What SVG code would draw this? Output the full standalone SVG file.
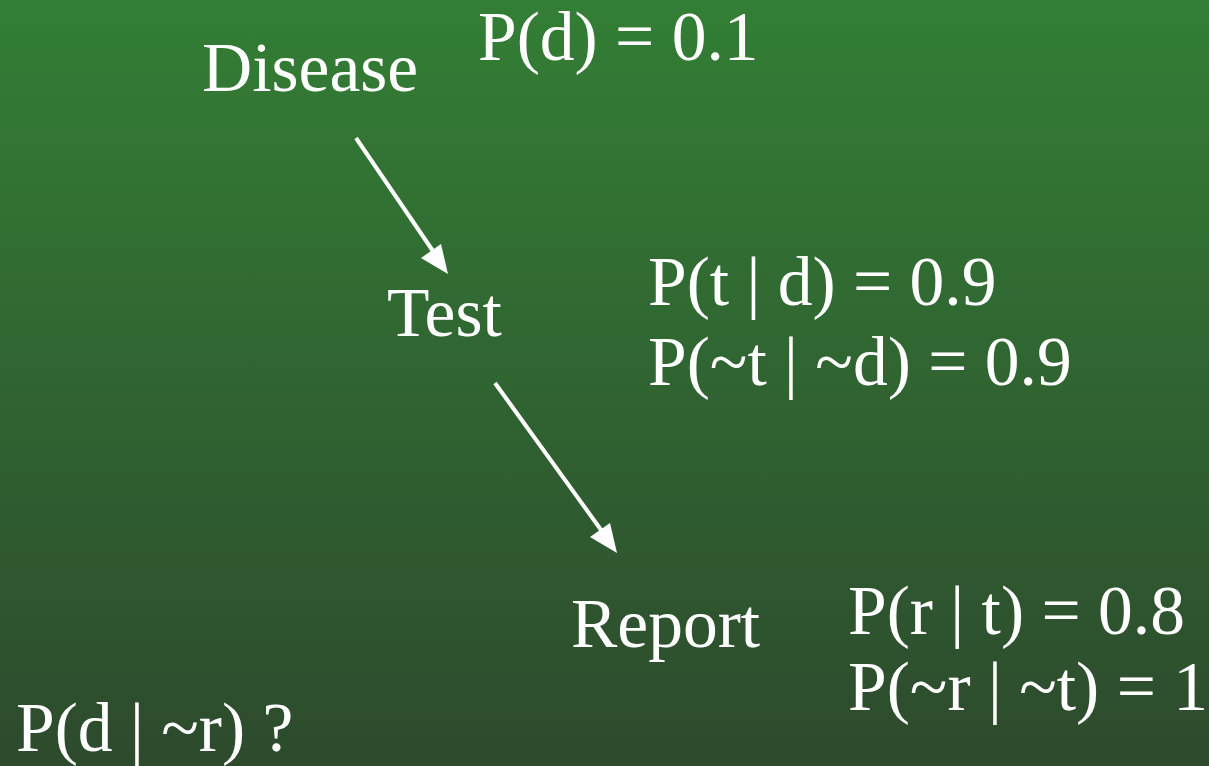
<svg xmlns="http://www.w3.org/2000/svg" width="1209" height="766" viewBox="0 0 1209 766">
<defs>
<linearGradient id="bg" x1="0" y1="0" x2="0" y2="1">
<stop offset="0" stop-color="#337e35"/>
<stop offset="1" stop-color="#2d4a2d"/>
</linearGradient>
<style>
text{font-family:"Liberation Serif","Times New Roman",serif;font-size:69.5px;fill:#fff}
.c{stroke:#fff;stroke-width:4;fill:none}
.h{fill:#fff}
</style>
</defs>
<rect width="1209" height="766" fill="url(#bg)"/>
<g id="connectors">
<line class="c" x1="356" y1="138" x2="435" y2="254"/>
<polygon class="h" points="448,274 421,258 441,244"/>
<line class="c" x1="495" y1="383" x2="604" y2="534"/>
<polygon class="h" points="617,553 590,537 610,523"/>
</g>
<g id="disease"><text x="202" y="91">Disease</text></g>
<g id="test"><text x="387" y="336">Test</text></g>
<g id="report"><text x="571" y="647">Report</text></g>
<g id="labels">
<text x="478" y="60">P(d) = 0.1</text>
<text x="648" y="305">P(t | d) = 0.9</text>
<text x="648" y="385">P(~t | ~d) = 0.9</text>
<text x="848" y="634">P(r | t) = 0.8</text>
<text x="848" y="710">P(~r | ~t) = 1</text>
<text x="16" y="751">P(d | ~r) ?</text>
</g>
</svg>
